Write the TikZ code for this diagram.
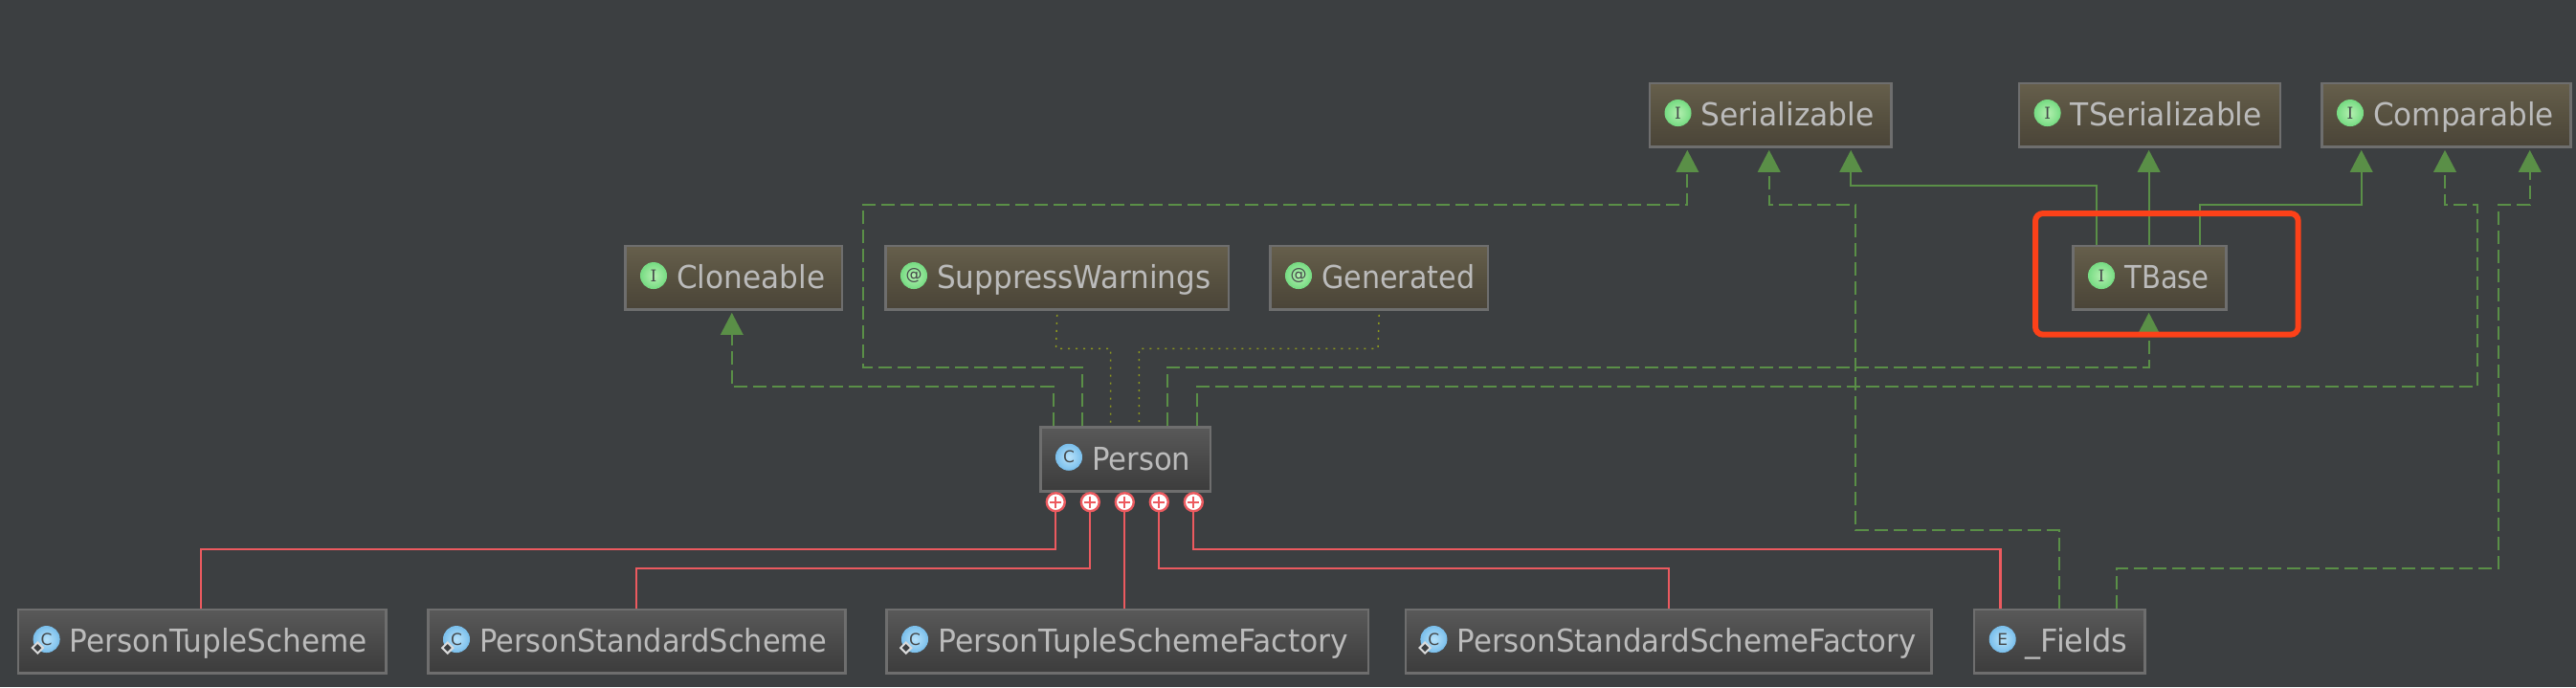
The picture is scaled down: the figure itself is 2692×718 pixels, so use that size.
\documentclass[tikz,border=0pt]{standalone}
\usepackage{graphicx}
\usepackage{fontspec}
\setmainfont{DejaVu Sans}
\newfontfamily\iconserif{DejaVu Serif}
\usetikzlibrary{arrows.meta,shapes.geometric}
\definecolor{bgc}{HTML}{3C3F41}
\definecolor{borderc}{HTML}{6E6E6E}
\definecolor{labelc}{HTML}{BBBBBB}
\definecolor{greenc}{HTML}{5A8F47}
\definecolor{dotc}{HTML}{8C981E}
\definecolor{redc}{HTML}{EC5A5F}
\definecolor{markc}{HTML}{FC4119}
\definecolor{ifaceT}{HTML}{665F4C}
\definecolor{ifaceM}{HTML}{575140}
\definecolor{ifaceB}{HTML}{4A4438}
\definecolor{classT}{HTML}{595959}
\definecolor{classM}{HTML}{4A4A4A}
\definecolor{classB}{HTML}{3C3C3C}
\definecolor{icoIa}{HTML}{B4F0B0}
\definecolor{icoIb}{HTML}{78DC84}
\definecolor{icoCa}{HTML}{B8E2FA}
\definecolor{icoCb}{HTML}{7CC0EC}
\definecolor{icoText}{HTML}{45484A}
\tikzset{
  ifacebox/.style={draw=borderc,line width=2.5pt,top color=ifaceT,bottom color=ifaceB,middle color=ifaceM,inner sep=0pt,anchor=north west,text=labelc,text height=44.75pt,text depth=22.05pt},
  classbox/.style={draw=borderc,line width=2.5pt,top color=classT,bottom color=classB,middle color=classM,inner sep=0pt,anchor=north west,text=labelc,text height=44.75pt,text depth=22.05pt},
  iconI/.style={circle,inner sep=0pt,minimum size=27pt,inner color=icoIa,outer color=icoIb,draw=icoIb,line width=1pt,text=icoText},
  iconC/.style={circle,inner sep=0pt,minimum size=27pt,inner color=icoCa,outer color=icoCb,draw=icoCb,line width=1pt,text=icoText},
  nestmark/.style={diamond,inner sep=0pt,minimum size=12pt,draw=white!85!black,fill=bgc,line width=2pt},
  dep/.style={draw=greenc,line width=2pt,dash pattern=on 14pt off 6pt,-{Triangle[length=23pt,width=23.5pt]},shorten >=2pt},
  inh/.style={draw=greenc,line width=2pt,-{Triangle[length=23pt,width=23.5pt]},shorten >=2pt},
  annot/.style={draw=dotc,line width=1.5pt,dash pattern=on 2pt off 6pt},
  inner class/.style={draw=redc,line width=2.2pt},
  plusdot/.style={circle,inner sep=0pt,minimum size=19pt,fill=white,draw=redc,line width=2.4pt,
    path picture={\draw[redc,line width=2.2pt]
      ([yshift=6pt]path picture bounding box.center)--([yshift=-6pt]path picture bounding box.center)
      ([xshift=-6pt]path picture bounding box.center)--([xshift=6pt]path picture bounding box.center);}},
  marker/.style={draw=markc,line width=6pt,rounded corners=8pt,inner sep=0pt,anchor=north west,minimum width=274.7pt,minimum height=126.7pt}
}
% style, name, x, y, outer width, icon style, letter, text width, text
\newcommand{\umlbox}[9]{%
  \pgfmathsetmacro{\bxx}{#3+1.25}%
  \pgfmathsetmacro{\byy}{#4+1.25}%
  \pgfmathsetmacro{\bww}{#5-2.5}%
  \node[#1] (#2) at (\bxx,\byy) {\makebox[\bww pt][l]{\hspace*{53.75pt}\fontsize{33}{40}\selectfont\resizebox{#8pt}{\height}{#9}}};
  \fill[borderc] ([yshift=3pt]#2.south west) rectangle (#2.south east);
  \node[#6] (#2-icon) at ([xshift=30.75pt,yshift=-32.5pt]#2.north west) {\fontsize{17}{20}\selectfont #7};
}
\begin{document}
\begin{tikzpicture}[x=1pt,y=-1pt]
\useasboundingbox (0,0) rectangle (2692,718);
\fill[bgc] (0,0) rectangle (2692,718);
% top row
\umlbox{ifacebox}{ser}{1721.5}{84.3}{255}{iconI}{\iconserif I}{181}{Serializable}
\umlbox{ifacebox}{tser}{2107.6}{84.3}{275.4}{iconI}{\iconserif I}{200}{TSerializable}
\umlbox{ifacebox}{comp}{2424}{84.3}{262.7}{iconI}{\iconserif I}{188.6}{Comparable}
% middle row
\umlbox{ifacebox}{clone}{651}{254.3}{229}{iconI}{\iconserif I}{155}{Cloneable}
\umlbox{ifacebox}{supp}{923}{254.3}{361}{iconI}{@}{286}{SuppressWarnings}
\umlbox{ifacebox}{gen}{1325}{254.3}{230}{iconI}{@}{160}{Generated}
\umlbox{ifacebox}{tbase}{2164}{254.3}{162.6}{iconI}{\iconserif I}{88.6}{TBase}
% person
\umlbox{classbox}{person}{1085}{444}{180}{iconC}{C}{103}{Person}
% bottom row
\umlbox{classbox}{ptuple}{16.6}{634.3}{387}{iconC}{C}{311}{PersonTupleScheme}
\umlbox{classbox}{pstd}{445}{634.3}{438.5}{iconC}{C}{363}{PersonStandardScheme}
\umlbox{classbox}{ptf}{924}{634.3}{506}{iconC}{C}{429}{PersonTupleSchemeFactory}
\umlbox{classbox}{psf}{1466.4}{634.3}{552.2}{iconC}{C}{480}{PersonStandardSchemeFactory}
\umlbox{classbox}{fields}{2060.7}{634.3}{180.7}{iconC}{E}{106.6}{\_Fields}
\node[nestmark] (m1) at ([xshift=21.5pt,yshift=-41.5pt]ptuple.north west) {};
\node[nestmark] (m2) at ([xshift=21.5pt,yshift=-41.5pt]pstd.north west) {};
\node[nestmark] (m3) at ([xshift=21.5pt,yshift=-41.5pt]ptf.north west) {};
\node[nestmark] (m4) at ([xshift=21.5pt,yshift=-41.5pt]psf.north west) {};
% annotation dots
\draw[annot] (supp.south) ++(0,4) -- (1103.5,364.3) -- (1160.7,364.3) -- (1160.7,0 |- person.north);
\draw[annot] (gen.south) ++(0,4) -- (1440,364.3) -- (1190.3,364.3) -- (1190.3,0 |- person.north);
% dependencies of Person
\draw[dep] (1100.5,0 |- person.north) -- (1100.5,404.3) -- (764.8,404.3) -- (764.8,0 |- clone.south);
\draw[dep] (1130.6,0 |- person.north) -- (1130.6,384.3) -- (901.5,384.3) -- (901.5,214.3) -- (1763.3,214.3) -- (1763.3,0 |- ser.south);
\draw[dep] (1220.4,0 |- person.north) -- (1220.4,384.3) -- (2245.6,384.3) -- (2245.6,0 |- tbase.south);
\draw[dep] (1250.5,0 |- person.north) -- (1250.5,404.3) -- (2588.6,404.3) -- (2588.6,214.3) -- (2555,214.3) -- (2555,0 |- comp.south);
% dependencies of _Fields
\draw[dep] (2151.5,0 |- fields.north) -- (2151.5,554.3) -- (1939.3,554.3) -- (1939.3,214.3) -- (1848.7,214.3) -- (1848.7,0 |- ser.south);
\draw[dep] (2211.6,0 |- fields.north) -- (2211.6,594.3) -- (2611.4,594.3) -- (2611.4,214.3) -- (2643.7,214.3) -- (2643.7,0 |- comp.south);
% TBase inheritance
\draw[inh] (2191,0 |- tbase.north) -- (2191,194.3) -- (1934.2,194.3) -- (1934.2,0 |- ser.south);
\draw[inh] (2245.6,0 |- tbase.north) -- (2245.6,0 |- tser.south);
\draw[inh] (2299.4,0 |- tbase.north) -- (2299.4,214.3) -- (2467.7,214.3) -- (2467.7,0 |- comp.south);
% inner classes
\node[plusdot] (p1) at (1103.3,524.7) {};
\node[plusdot] (p2) at (1139.3,524.7) {};
\node[plusdot] (p3) at (1175.3,524.7) {};
\node[plusdot] (p4) at (1211.3,524.7) {};
\node[plusdot] (p5) at (1247.3,524.7) {};
\draw[inner class] (p1.south) -- (1103.3,574.3) -- (210.1,574.3) -- (210.1,0 |- ptuple.north);
\draw[inner class] (p2.south) -- (1139.3,594.3) -- (664.8,594.3) -- (664.8,0 |- pstd.north);
\draw[inner class] (p3.south) -- (1175.3,0 |- ptf.north);
\draw[inner class] (p4.south) -- (1211.3,594.3) -- (1743.6,594.3) -- (1743.6,0 |- psf.north);
\draw[inner class] (p5.south) -- (1247.3,574.3) -- (2090.4,574.3) -- (2090.4,0 |- fields.north);
% highlight
\node[marker] (hl) at (2124,220) {};
\end{tikzpicture}
\end{document}
